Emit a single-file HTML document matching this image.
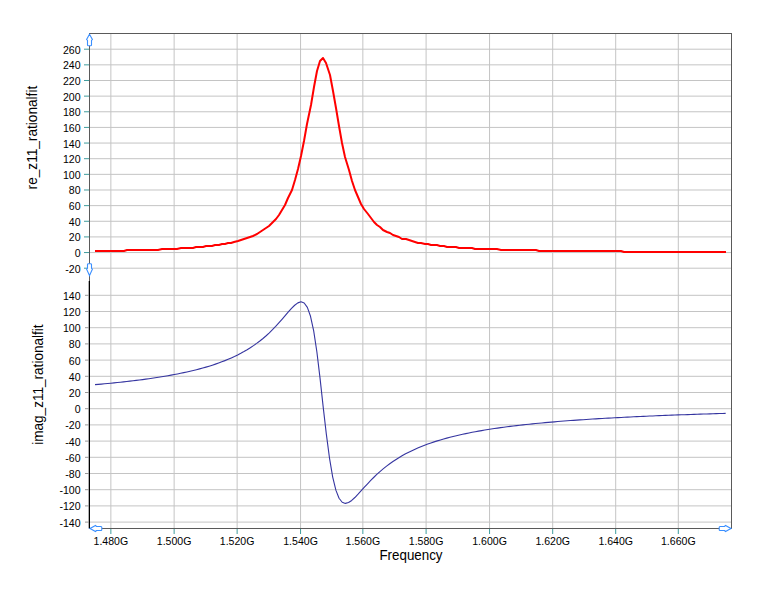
<!DOCTYPE html><html><head><meta charset="utf-8"><style>html,body{margin:0;padding:0;background:#fff;width:776px;height:599px;overflow:hidden}svg{display:block}text{font-family:"Liberation Sans",sans-serif;fill:#000}.t{font-size:11.5px;letter-spacing:0px}.h{font-size:14px}</style></head><body>
<svg width="776" height="599" viewBox="0 0 776 599">
<line x1="110.87" y1="34" x2="110.87" y2="528" stroke="#c4c4c4"/>
<line x1="174.13" y1="34" x2="174.13" y2="528" stroke="#c4c4c4"/>
<line x1="237.13" y1="34" x2="237.13" y2="528" stroke="#c4c4c4"/>
<line x1="300.55" y1="34" x2="300.55" y2="528" stroke="#c4c4c4"/>
<line x1="362.85" y1="34" x2="362.85" y2="528" stroke="#c4c4c4"/>
<line x1="426.10" y1="34" x2="426.10" y2="528" stroke="#c4c4c4"/>
<line x1="489.55" y1="34" x2="489.55" y2="528" stroke="#c4c4c4"/>
<line x1="552.70" y1="34" x2="552.70" y2="528" stroke="#c4c4c4"/>
<line x1="615.70" y1="34" x2="615.70" y2="528" stroke="#c4c4c4"/>
<line x1="678.30" y1="34" x2="678.30" y2="528" stroke="#c4c4c4"/>
<line x1="90" y1="49.20" x2="731" y2="49.20" stroke="#c4c4c4"/>
<line x1="90" y1="64.85" x2="731" y2="64.85" stroke="#c4c4c4"/>
<line x1="90" y1="80.49" x2="731" y2="80.49" stroke="#c4c4c4"/>
<line x1="90" y1="96.13" x2="731" y2="96.13" stroke="#c4c4c4"/>
<line x1="90" y1="111.77" x2="731" y2="111.77" stroke="#c4c4c4"/>
<line x1="90" y1="127.42" x2="731" y2="127.42" stroke="#c4c4c4"/>
<line x1="90" y1="143.06" x2="731" y2="143.06" stroke="#c4c4c4"/>
<line x1="90" y1="158.70" x2="731" y2="158.70" stroke="#c4c4c4"/>
<line x1="90" y1="174.35" x2="731" y2="174.35" stroke="#c4c4c4"/>
<line x1="90" y1="189.99" x2="731" y2="189.99" stroke="#c4c4c4"/>
<line x1="90" y1="205.63" x2="731" y2="205.63" stroke="#c4c4c4"/>
<line x1="90" y1="221.27" x2="731" y2="221.27" stroke="#c4c4c4"/>
<line x1="90" y1="236.92" x2="731" y2="236.92" stroke="#c4c4c4"/>
<line x1="90" y1="252.56" x2="731" y2="252.56" stroke="#c4c4c4"/>
<line x1="90" y1="268.20" x2="731" y2="268.20" stroke="#c4c4c4"/>
<line x1="90" y1="295.30" x2="731" y2="295.30" stroke="#c4c4c4"/>
<line x1="90" y1="311.50" x2="731" y2="311.50" stroke="#c4c4c4"/>
<line x1="90" y1="327.70" x2="731" y2="327.70" stroke="#c4c4c4"/>
<line x1="90" y1="343.90" x2="731" y2="343.90" stroke="#c4c4c4"/>
<line x1="90" y1="360.10" x2="731" y2="360.10" stroke="#c4c4c4"/>
<line x1="90" y1="376.30" x2="731" y2="376.30" stroke="#c4c4c4"/>
<line x1="90" y1="392.50" x2="731" y2="392.50" stroke="#c4c4c4"/>
<line x1="90" y1="408.70" x2="731" y2="408.70" stroke="#c4c4c4"/>
<line x1="90" y1="424.90" x2="731" y2="424.90" stroke="#c4c4c4"/>
<line x1="90" y1="441.10" x2="731" y2="441.10" stroke="#c4c4c4"/>
<line x1="90" y1="457.30" x2="731" y2="457.30" stroke="#c4c4c4"/>
<line x1="90" y1="473.50" x2="731" y2="473.50" stroke="#c4c4c4"/>
<line x1="90" y1="489.70" x2="731" y2="489.70" stroke="#c4c4c4"/>
<line x1="90" y1="505.90" x2="731" y2="505.90" stroke="#c4c4c4"/>
<line x1="90" y1="522.10" x2="731" y2="522.10" stroke="#c4c4c4"/>
<line x1="89" y1="33.5" x2="732" y2="33.5" stroke="#5a5a5a"/>
<line x1="731.5" y1="33" x2="731.5" y2="529" stroke="#5a5a5a"/>
<line x1="89" y1="528.5" x2="732" y2="528.5" stroke="#5a5a5a"/>
<line x1="89.5" y1="33" x2="89.5" y2="281" stroke="#5a5a5a"/>
<rect x="88.7" y="281" width="1.3" height="247.5" fill="#000"/>
<line x1="84" y1="49.20" x2="89" y2="49.20" stroke="#3f9d9d"/>
<text class="t" transform="translate(80.6,53.70) scale(0.92,1)" text-anchor="end">260</text>
<line x1="84" y1="64.85" x2="89" y2="64.85" stroke="#3f9d9d"/>
<text class="t" transform="translate(80.6,69.35) scale(0.92,1)" text-anchor="end">240</text>
<line x1="84" y1="80.49" x2="89" y2="80.49" stroke="#3f9d9d"/>
<text class="t" transform="translate(80.6,84.99) scale(0.92,1)" text-anchor="end">220</text>
<line x1="84" y1="96.13" x2="89" y2="96.13" stroke="#3f9d9d"/>
<text class="t" transform="translate(80.6,100.63) scale(0.92,1)" text-anchor="end">200</text>
<line x1="84" y1="111.77" x2="89" y2="111.77" stroke="#3f9d9d"/>
<text class="t" transform="translate(80.6,116.27) scale(0.92,1)" text-anchor="end">180</text>
<line x1="84" y1="127.42" x2="89" y2="127.42" stroke="#3f9d9d"/>
<text class="t" transform="translate(80.6,131.92) scale(0.92,1)" text-anchor="end">160</text>
<line x1="84" y1="143.06" x2="89" y2="143.06" stroke="#3f9d9d"/>
<text class="t" transform="translate(80.6,147.56) scale(0.92,1)" text-anchor="end">140</text>
<line x1="84" y1="158.70" x2="89" y2="158.70" stroke="#3f9d9d"/>
<text class="t" transform="translate(80.6,163.20) scale(0.92,1)" text-anchor="end">120</text>
<line x1="84" y1="174.35" x2="89" y2="174.35" stroke="#3f9d9d"/>
<text class="t" transform="translate(80.6,178.85) scale(0.92,1)" text-anchor="end">100</text>
<line x1="84" y1="189.99" x2="89" y2="189.99" stroke="#3f9d9d"/>
<text class="t" transform="translate(80.6,194.49) scale(0.92,1)" text-anchor="end">80</text>
<line x1="84" y1="205.63" x2="89" y2="205.63" stroke="#3f9d9d"/>
<text class="t" transform="translate(80.6,210.13) scale(0.92,1)" text-anchor="end">60</text>
<line x1="84" y1="221.27" x2="89" y2="221.27" stroke="#3f9d9d"/>
<text class="t" transform="translate(80.6,225.77) scale(0.92,1)" text-anchor="end">40</text>
<line x1="84" y1="236.92" x2="89" y2="236.92" stroke="#3f9d9d"/>
<text class="t" transform="translate(80.6,241.42) scale(0.92,1)" text-anchor="end">20</text>
<line x1="84" y1="252.56" x2="89" y2="252.56" stroke="#3f9d9d"/>
<text class="t" transform="translate(80.6,257.06) scale(0.92,1)" text-anchor="end">0</text>
<line x1="84" y1="268.20" x2="89" y2="268.20" stroke="#3f9d9d"/>
<text class="t" transform="translate(80.6,272.70) scale(0.92,1)" text-anchor="end">-20</text>
<line x1="85" y1="295.30" x2="89" y2="295.30" stroke="#999"/>
<text class="t" transform="translate(80.6,299.80) scale(0.92,1)" text-anchor="end">140</text>
<line x1="85" y1="311.50" x2="89" y2="311.50" stroke="#999"/>
<text class="t" transform="translate(80.6,316.00) scale(0.92,1)" text-anchor="end">120</text>
<line x1="85" y1="327.70" x2="89" y2="327.70" stroke="#999"/>
<text class="t" transform="translate(80.6,332.20) scale(0.92,1)" text-anchor="end">100</text>
<line x1="85" y1="343.90" x2="89" y2="343.90" stroke="#999"/>
<text class="t" transform="translate(80.6,348.40) scale(0.92,1)" text-anchor="end">80</text>
<line x1="85" y1="360.10" x2="89" y2="360.10" stroke="#999"/>
<text class="t" transform="translate(80.6,364.60) scale(0.92,1)" text-anchor="end">60</text>
<line x1="85" y1="376.30" x2="89" y2="376.30" stroke="#999"/>
<text class="t" transform="translate(80.6,380.80) scale(0.92,1)" text-anchor="end">40</text>
<line x1="85" y1="392.50" x2="89" y2="392.50" stroke="#999"/>
<text class="t" transform="translate(80.6,397.00) scale(0.92,1)" text-anchor="end">20</text>
<line x1="85" y1="408.70" x2="89" y2="408.70" stroke="#999"/>
<text class="t" transform="translate(80.6,413.20) scale(0.92,1)" text-anchor="end">0</text>
<line x1="85" y1="424.90" x2="89" y2="424.90" stroke="#999"/>
<text class="t" transform="translate(80.6,429.40) scale(0.92,1)" text-anchor="end">-20</text>
<line x1="85" y1="441.10" x2="89" y2="441.10" stroke="#999"/>
<text class="t" transform="translate(80.6,445.60) scale(0.92,1)" text-anchor="end">-40</text>
<line x1="85" y1="457.30" x2="89" y2="457.30" stroke="#999"/>
<text class="t" transform="translate(80.6,461.80) scale(0.92,1)" text-anchor="end">-60</text>
<line x1="85" y1="473.50" x2="89" y2="473.50" stroke="#999"/>
<text class="t" transform="translate(80.6,478.00) scale(0.92,1)" text-anchor="end">-80</text>
<line x1="85" y1="489.70" x2="89" y2="489.70" stroke="#999"/>
<text class="t" transform="translate(80.6,494.20) scale(0.92,1)" text-anchor="end">-100</text>
<line x1="85" y1="505.90" x2="89" y2="505.90" stroke="#999"/>
<text class="t" transform="translate(80.6,510.40) scale(0.92,1)" text-anchor="end">-120</text>
<line x1="85" y1="522.10" x2="89" y2="522.10" stroke="#999"/>
<text class="t" transform="translate(80.6,526.60) scale(0.92,1)" text-anchor="end">-140</text>
<line x1="110.87" y1="529" x2="110.87" y2="534" stroke="#3f9d9d"/>
<text class="t" transform="translate(110.87,544.8) scale(0.92,1)" text-anchor="middle">1.480G</text>
<line x1="174.13" y1="529" x2="174.13" y2="534" stroke="#3f9d9d"/>
<text class="t" transform="translate(174.13,544.8) scale(0.92,1)" text-anchor="middle">1.500G</text>
<line x1="237.13" y1="529" x2="237.13" y2="534" stroke="#3f9d9d"/>
<text class="t" transform="translate(237.13,544.8) scale(0.92,1)" text-anchor="middle">1.520G</text>
<line x1="300.55" y1="529" x2="300.55" y2="534" stroke="#3f9d9d"/>
<text class="t" transform="translate(300.55,544.8) scale(0.92,1)" text-anchor="middle">1.540G</text>
<line x1="362.85" y1="529" x2="362.85" y2="534" stroke="#3f9d9d"/>
<text class="t" transform="translate(362.85,544.8) scale(0.92,1)" text-anchor="middle">1.560G</text>
<line x1="426.10" y1="529" x2="426.10" y2="534" stroke="#3f9d9d"/>
<text class="t" transform="translate(426.10,544.8) scale(0.92,1)" text-anchor="middle">1.580G</text>
<line x1="489.55" y1="529" x2="489.55" y2="534" stroke="#3f9d9d"/>
<text class="t" transform="translate(489.55,544.8) scale(0.92,1)" text-anchor="middle">1.600G</text>
<line x1="552.70" y1="529" x2="552.70" y2="534" stroke="#3f9d9d"/>
<text class="t" transform="translate(552.70,544.8) scale(0.92,1)" text-anchor="middle">1.620G</text>
<line x1="615.70" y1="529" x2="615.70" y2="534" stroke="#3f9d9d"/>
<text class="t" transform="translate(615.70,544.8) scale(0.92,1)" text-anchor="middle">1.640G</text>
<line x1="678.30" y1="529" x2="678.30" y2="534" stroke="#3f9d9d"/>
<text class="t" transform="translate(678.30,544.8) scale(0.92,1)" text-anchor="middle">1.660G</text>
<text class="h" transform="translate(411,560.4) scale(0.955,1)" text-anchor="middle">Frequency</text>
<text class="h" transform="translate(37.3,137.6) rotate(-90) scale(0.975,1)" text-anchor="middle">re_z11_rationalfit</text>
<text class="h" transform="translate(42.8,384.6) rotate(-90) scale(0.97,1)" text-anchor="middle">imag_z11_rationalfit</text>
<polyline points="95,251 98,251 101,251 105,251 108,251 111,251 114,251 117,251 120,251 124,251 127,250 130,250 133,250 136,250 139,250 143,250 146,250 149,250 152,250 155,250 158,250 162,249 165,249 168,249 171,249 174,249 177,249 181,248 184,248 187,248 190,248 193,248 196,247 200,247 203,247 206,246 209,246 212,246 215,245 219,245 222,244 225,244 228,243 231,243 234,242 238,241 241,240 244,239 247,238 250,237 253,236 257,234 260,232 263,230 266,228 269,226 272,223 276,219 279,215 282,210 285,205 288,198 292,190 295,180 298,169 301,156 304,141 307,124 311,105 314,87 317,71 320,61 323,58 326,63 330,75 333,91 336,108 339,126 342,143 345,157 349,170 352,181 355,190 358,197 361,204 364,209 368,214 371,218 374,222 377,225 380,227 383,230 387,232 390,233 393,235 396,236 399,237 402,239 406,239 409,240 412,241 415,242 418,243 421,243 425,244 428,244 431,245 434,245 437,245 440,246 444,246 447,247 450,247 453,247 456,247 459,248 463,248 466,248 469,248 472,248 475,249 478,249 482,249 485,249 488,249 491,249 494,249 497,249 501,250 504,250 507,250 510,250 513,250 517,250 520,250 523,250 526,250 529,250 532,250 536,250 539,251 542,251 545,251 548,251 551,251 555,251 558,251 561,251 564,251 567,251 570,251 574,251 577,251 580,251 583,251 586,251 589,251 593,251 596,251 599,251 602,251 605,251 608,251 612,251 615,251 618,251 621,251 624,252 627,252 631,252 634,252 637,252 640,252 643,252 646,252 650,252 653,252 656,252 659,252 662,252 665,252 669,252 672,252 675,252 678,252 681,252 684,252 688,252 691,252 694,252 697,252 700,252 703,252 707,252 710,252 713,252 716,252 719,252 722,252 726,252" fill="none" stroke="#ff0000" stroke-width="2" stroke-linejoin="round"/>
<polyline points="95.03,384.66 98.20,384.38 101.37,384.10 104.54,383.81 107.71,383.51 110.88,383.20 114.05,382.89 117.22,382.56 120.39,382.23 123.56,381.88 126.72,381.53 129.89,381.16 133.06,380.79 136.23,380.40 139.40,380.00 142.57,379.59 145.74,379.16 148.91,378.72 152.08,378.26 155.24,377.79 158.41,377.30 161.58,376.79 164.75,376.27 167.92,375.72 171.09,375.15 174.26,374.57 177.43,373.95 180.60,373.32 183.76,372.65 186.93,371.96 190.10,371.24 193.27,370.48 196.44,369.70 199.61,368.87 202.78,368.01 205.95,367.11 209.12,366.16 212.29,365.16 215.45,364.11 218.62,363.01 221.79,361.85 224.96,360.62 228.13,359.32 231.30,357.95 234.47,356.50 237.64,354.96 240.81,353.32 243.97,351.59 247.14,349.74 250.31,347.76 253.48,345.66 256.65,343.42 259.82,341.02 262.99,338.46 266.16,335.73 269.33,332.82 272.50,329.72 275.66,326.43 278.83,322.97 282.00,319.37 285.17,315.67 288.34,311.96 291.51,308.41 294.68,305.25 297.85,302.87 301.02,301.84 304.18,302.97 307.35,307.35 310.52,316.26 313.69,330.89 316.86,351.76 320.03,378.07 323.20,407.11 326.37,434.43 329.54,458.34 332.71,477.06 335.87,490.16 339.04,498.22 342.21,502.27 345.38,503.40 348.55,502.54 351.72,500.42 354.89,497.52 358.06,494.22 361.23,490.74 364.39,487.22 367.56,483.76 370.73,480.43 373.90,477.24 377.07,474.21 380.24,471.35 383.41,468.66 386.58,466.13 389.75,463.75 392.92,461.52 396.08,459.42 399.25,457.45 402.42,455.59 405.59,453.85 408.76,452.20 411.93,450.65 415.10,449.19 418.27,447.80 421.44,446.49 424.60,445.25 427.77,444.07 430.94,442.95 434.11,441.89 437.28,440.87 440.45,439.91 443.62,438.99 446.79,438.11 449.96,437.28 453.13,436.48 456.29,435.71 459.46,434.97 462.63,434.27 465.80,433.60 468.97,432.95 472.14,432.32 475.31,431.73 478.48,431.15 481.65,430.59 484.81,430.06 487.98,429.54 491.15,429.05 494.32,428.57 497.49,428.10 500.66,427.65 503.83,427.22 507.00,426.80 510.17,426.40 513.34,426.00 516.50,425.62 519.67,425.25 522.84,424.89 526.01,424.55 529.18,424.21 532.35,423.88 535.52,423.56 538.69,423.25 541.86,422.95 545.02,422.66 548.19,422.37 551.36,422.10 554.53,421.83 557.70,421.56 560.87,421.31 564.04,421.06 567.21,420.81 570.38,420.57 573.55,420.34 576.71,420.12 579.88,419.89 583.05,419.68 586.22,419.47 589.39,419.26 592.56,419.06 595.73,418.86 598.90,418.67 602.07,418.48 605.23,418.29 608.40,418.11 611.57,417.94 614.74,417.76 617.91,417.59 621.08,417.43 624.25,417.27 627.42,417.11 630.59,416.95 633.76,416.80 636.92,416.65 640.09,416.50 643.26,416.35 646.43,416.21 649.60,416.07 652.77,415.93 655.94,415.80 659.11,415.67 662.28,415.54 665.44,415.41 668.61,415.29 671.78,415.16 674.95,415.04 678.12,414.92 681.29,414.81 684.46,414.69 687.63,414.58 690.80,414.47 693.97,414.36 697.13,414.25 700.30,414.14 703.47,414.04 706.64,413.94 709.81,413.84 712.98,413.74 716.15,413.64 719.32,413.54 722.49,413.45 725.65,413.35" fill="none" stroke="#3535a0" stroke-width="1.1" stroke-linejoin="round"/>
<path d="M89.5,34.3 L86.6,39.5 L87.5,40.5 L87.5,45 Q87.5,45.8 88.5,45.8 L90.5,45.8 Q91.5,45.8 91.5,45 L91.5,40.5 L92.4,39.5 Z" fill="#fff" stroke="#3a8fff" stroke-width="1.1"/>
<path d="M89.5,275.6 L86.6,269.2 L87.5,268.3 L87.5,264.5 Q87.5,263.7 88.5,263.7 L90.5,263.7 Q91.5,263.7 91.5,264.5 L91.5,268.3 L92.4,269.2 Z" fill="#fff" stroke="#3a8fff" stroke-width="1.1"/>
<path d="M90,528.5 L95.5,525.5 L96.5,526.5 L101,526.5 Q101.8,526.5 101.8,527.5 L101.8,529.5 Q101.8,530.5 101,530.5 L96.5,530.5 L95.5,531.5 Z" fill="#fff" stroke="#3a8fff" stroke-width="1.1"/>
<path d="M731,528.5 L725.5,525.5 L724.5,526.5 L720,526.5 Q719.2,526.5 719.2,527.5 L719.2,529.5 Q719.2,530.5 720,530.5 L724.5,530.5 L725.5,531.5 Z" fill="#fff" stroke="#3a8fff" stroke-width="1.1"/>
</svg></body></html>
